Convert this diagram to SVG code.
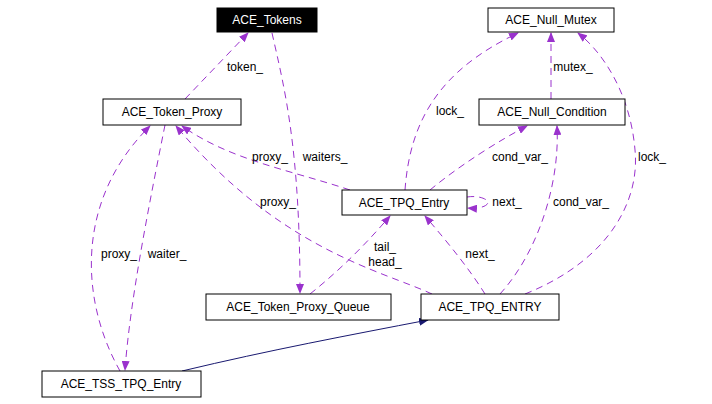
<svg xmlns="http://www.w3.org/2000/svg" width="712" height="404" viewBox="0 0 712 404">
<style>
.n{fill:#fff;stroke:#000;stroke-width:1}
.t{font-family:"Liberation Sans",Arial,sans-serif;font-size:12px;text-anchor:middle}
.l{font-family:"Liberation Sans",Arial,sans-serif;font-size:12px;text-anchor:middle}
.e{fill:none;stroke:#9a32cd;stroke-dasharray:7,5;stroke-width:1}
.i{fill:none;stroke:#191970;stroke-width:1}
</style>
<defs>
<marker id="a" markerWidth="10" markerHeight="8" refX="9" refY="4" orient="auto" markerUnits="userSpaceOnUse"><path d="M0,0L10,4L0,8z" fill="#9a32cd"/></marker>
<marker id="b" markerWidth="10" markerHeight="8" refX="9" refY="4" orient="auto" markerUnits="userSpaceOnUse"><path d="M0,0L10,4L0,8z" fill="#191970"/></marker>
</defs>
<g id="edges">
<path class="e" marker-end="url(#a)" d="M185,99 L248,33"/>
<path class="e" marker-end="url(#a)" d="M272,33 C285,90 300,150 300,293"/>
<path class="e" marker-end="url(#a)" d="M405,190 C410,120 440,70 518,33"/>
<path class="e" marker-end="url(#a)" d="M551,99 L551,33"/>
<path class="e" marker-end="url(#a)" d="M430,190 C460,165 500,140 527,126"/>
<path class="e" marker-end="url(#a)" d="M350,190 C290,170 230,160 182,126"/>
<path class="e" marker-end="url(#a)" d="M467,197 C480,195 488,200 488,202 C488,206 480,209 468,208"/>
<path class="e" marker-end="url(#a)" d="M432,294 C380,270 280,250 176,126"/>
<path class="e" marker-end="url(#a)" d="M310,294 C340,270 365,245 390,216"/>
<path class="e" marker-end="url(#a)" d="M485,294 C470,270 450,245 425,216"/>
<path class="e" marker-end="url(#a)" d="M500,294 C540,250 560,180 557,126"/>
<path class="e" marker-end="url(#a)" d="M525,294 C610,260 640,200 635,150 C630,90 600,50 578,33"/>
<path class="e" marker-end="url(#a)" d="M120,371 C80,300 75,200 150,126"/>
<path class="e" marker-end="url(#a)" d="M165,125 C150,200 130,300 125,370"/>
<path class="i" marker-end="url(#b)" d="M182,371 C270,350 350,335 428,320"/>
<text class="l" x="245" y="71">token_</text>
<text class="l" x="325" y="161">waiters_</text>
<text class="l" x="450" y="115">lock_</text>
<text class="l" x="573" y="71">mutex_</text>
<text class="l" x="520" y="161">cond_var_</text>
<text class="l" x="270" y="161">proxy_</text>
<text class="l" x="507" y="206">next_</text>
<text class="l" x="278" y="206">proxy_</text>
<text class="l" x="385" y="251">tail_</text>
<text class="l" x="385" y="266">head_</text>
<text class="l" x="480" y="258">next_</text>
<text class="l" x="581" y="206">cond_var_</text>
<text class="l" x="652" y="161">lock_</text>
<text class="l" x="119" y="258">proxy_</text>
<text class="l" x="167" y="258">waiter_</text>
</g>
<g id="ACE_Tokens"><rect x="217" y="8" width="100" height="24" fill="#000" stroke="#000"/><text class="t" x="267" y="24" fill="#fff">ACE_Tokens</text></g>
<g id="ACE_Null_Mutex"><rect class="n" x="488" y="8" width="126" height="24"/><text class="t" x="551" y="24">ACE_Null_Mutex</text></g>
<g id="ACE_Token_Proxy"><rect class="n" x="103" y="99" width="138" height="26"/><text class="t" x="172" y="116">ACE_Token_Proxy</text></g>
<g id="ACE_Null_Condition"><rect class="n" x="479" y="99" width="146" height="26"/><text class="t" x="552" y="116">ACE_Null_Condition</text></g>
<g id="ACE_TPQ_Entry"><rect class="n" x="342" y="190" width="125" height="25"/><text class="t" x="404" y="207">ACE_TPQ_Entry</text></g>
<g id="ACE_Token_Proxy_Queue"><rect class="n" x="206" y="294" width="185" height="26"/><text class="t" x="298" y="311">ACE_Token_Proxy_Queue</text></g>
<g id="ACE_TPQ_ENTRY"><rect class="n" x="421" y="294" width="138" height="26"/><text class="t" x="490" y="311">ACE_TPQ_ENTRY</text></g>
<g id="ACE_TSS_TPQ_Entry"><rect class="n" x="42" y="371" width="159" height="26"/><text class="t" x="121" y="388">ACE_TSS_TPQ_Entry</text></g>
</svg>
